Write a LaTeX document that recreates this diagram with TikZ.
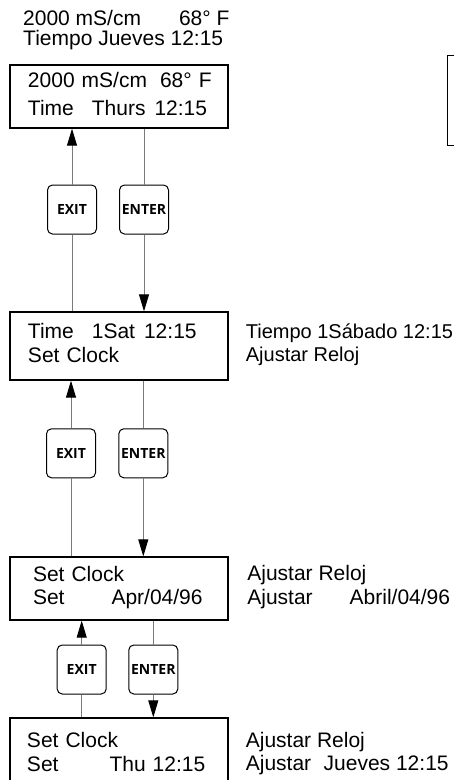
\documentclass[tikz,border=0pt]{standalone}
\usepackage{fontspec}
\setmainfont{Liberation Sans}
\newfontfamily\keyfont{Open Sans}
\usetikzlibrary{arrows.meta, positioning}
\definecolor{wireG}{HTML}{7A7A7A}

\begin{document}
\begin{tikzpicture}[
  x=1pt, y=-1pt,
  screen/.style={
    draw=black, line width=1.3pt,
    font=\fontsize{21}{23.5}\selectfont,
    align=left, text width=192pt,
    inner xsep=13pt, inner ysep=0pt,
    minimum height=63pt,
    execute at begin node={\leftskip=#1\strut},
    execute at end node=\strut
  },
  screen/.default=5pt,
  note/.style={
    font=\fontsize{21}{23.5}\selectfont,
    align=left, anchor=west, inner sep=0pt,
    execute at begin node=\strut,
    execute at end node=\strut
  },
  key/.style={
    draw=black, line width=1pt,
    rounded corners=5pt,
    minimum width=49pt, minimum height=49pt,
    inner sep=0pt,
    font=\keyfont\bfseries\fontsize{14}{14}\selectfont
  },
  arr/.style={-{Triangle[length=17pt, width=10pt, color=black]}, wireG, line width=0.9pt},
  wire/.style={wireG, line width=0.9pt}
]
\useasboundingbox (0,0) rectangle (454,780);

%% === MAIN DISPLAY ===
\node[note, anchor=north west] (title) at (23,10)
  {2000 mS/cm\hspace{38pt}68° F\\[-3.5pt]
   Tiempo Jueves 12:15};

\node[screen] (scr1) at (119,96.5)
  {2000 mS/cm\hspace{13pt}68° F\\[4.5pt]
   Time\hspace{18pt}Thurs\hspace{9pt}12:15};

\node[screen, minimum width=218pt, minimum height=90pt, anchor=north west] (aside) at (447,55) {};

\node[key] (key1x) at (72,209.5) {EXIT};
\node[key] (key1e) at (144,209.5) {ENTER};

%% === SET CLOCK ===
\node[screen, minimum height=68pt] (scr2) at (119,346)
  {Time\hspace{18pt}1Sat\hspace{9pt}12:15\\
   Set Clock};
\node[note, right=17pt of scr2, font=\fontsize{20}{23.5}\selectfont] (lbl2)
  {Tiempo 1Sábado 12:15\\
   Ajustar Reloj};

\draw[arr] (key1x) -- (key1x |- scr1.south);
\draw[wire] (key1x |- scr2.north) -- (key1x);
\draw[wire] (key1e |- scr1.south) -- (key1e);
\draw[arr] (key1e) -- (key1e |- scr2.north);

\node[key] (key2x) at (71,453.3) {EXIT};
\node[key] (key2e) at (143.3,453.3) {ENTER};

%% === SET DATE ===
\node[screen=10pt] (scr3) at (119,588.5)
  {Set Clock\\
   Set\hspace{47pt}Apr/04/96};
\node[note, right=18.5pt of scr3] (lbl3)
  {Ajustar Reloj\\
   Ajustar\hspace{37pt}Abril/04/96};

\draw[arr] (key2x) -- (key2x |- scr2.south);
\draw[wire] (key2x |- scr3.north) -- (key2x);
\draw[wire] (key2e |- scr2.south) -- (key2e);
\draw[arr] (key2e) -- (key2e |- scr3.north);

\node[key] (key3x) at (81.7,669.5) {EXIT};
\node[key] (key3e) at (153.3,669.5) {ENTER};

%% === SET DAY / TIME ===
\node[screen=4pt, minimum height=74pt] (scr4) at (119,755)
  {Set Clock\\
   Set\hspace{51pt}Thu\hspace{7pt}12:15};
\node[note, right=17pt of scr4] (lbl4)
  {Ajustar Reloj\\
   Ajustar\hspace{12.5pt}Jueves 12:15};

\draw[arr] (key3x) -- (key3x |- scr3.south);
\draw[wire] (key3x |- scr4.north) -- (key3x);
\draw[wire] (key3e |- scr3.south) -- (key3e);
\draw[arr] (key3e) -- (key3e |- scr4.north);

\end{tikzpicture}
\end{document}
